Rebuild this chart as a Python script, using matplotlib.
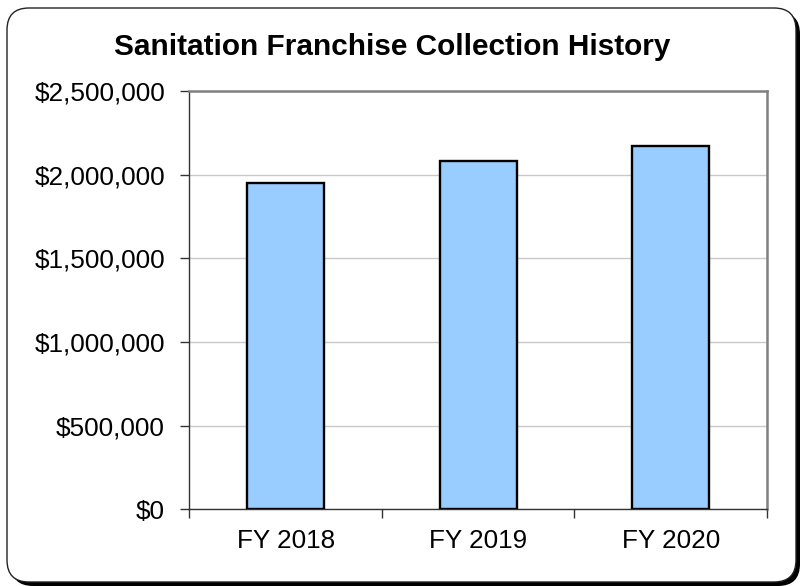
import matplotlib.pyplot as plt
import matplotlib.ticker as mt
from matplotlib.patches import FancyBboxPatch
import numpy as np

plt.rcParams['font.family'] = ['Liberation Sans', 'DejaVu Sans']

# data
years = ['FY 2018', 'FY 2019', 'FY 2020']
collections = [1950000, 2081000, 2169000]
y_ticks = [0, 500000, 1000000, 1500000, 2000000, 2500000]

fig = plt.figure(figsize=(8.01, 5.86), dpi=100)

# rounded outer frame with a drop shadow
shadow = FancyBboxPatch((0.11, 0.0), 7.89, 5.74, boxstyle="round,pad=0,rounding_size=0.22",
                        transform=fig.dpi_scale_trans, fc='black', ec='black', lw=0, zorder=0)
frame = FancyBboxPatch((0.07, 0.04), 7.89, 5.74, boxstyle="round,pad=0,rounding_size=0.22",
                       transform=fig.dpi_scale_trans, fc='white', ec='#222222', lw=1.0, zorder=1)
fig.patches.extend([shadow, frame])

ax = fig.add_axes([0.2363, 0.1309, 0.7213, 0.7138])
ax.set_zorder(2)
ax.patch.set_alpha(0)

x = np.arange(len(years))
ax.bar(x, collections, width=0.40, color='#99CCFF', edgecolor='black', linewidth=1.7, zorder=3)

ax.set_xlim(-0.5, len(years) - 0.5)
ax.set_ylim(0, 2500000)
ax.set_yticks(y_ticks)
ax.yaxis.set_major_formatter(mt.FuncFormatter(lambda v, p: '${:,.0f}'.format(v)))
ax.grid(axis='y', color='#C8C8C8', linewidth=1.0, zorder=0)
ax.set_axisbelow(True)

# categories labelled in the middle, ticks on the boundaries
ax.set_xticks(np.arange(len(years) + 1) - 0.5)
ax.set_xticklabels([])
ax.set_xticks(x, minor=True)
ax.set_xticklabels(years, minor=True)
ax.tick_params(axis='x', which='minor', length=0, labelsize=18.8, pad=14)
ax.tick_params(axis='x', which='major', length=6.5, width=1, color='#333333', direction='out')
ax.tick_params(axis='y', length=6.5, width=1, color='#333333', labelsize=18.8, pad=11)

for side in ['left', 'bottom']:
    ax.spines[side].set_color('#333333')
    ax.spines[side].set_linewidth(1.0)
for side in ['top', 'right']:
    ax.spines[side].set_color('#808080')
    ax.spines[side].set_linewidth(1.8)

fig.text(0.49, 0.919, 'Sanitation Franchise Collection History', ha='center', va='center',
         fontsize=21.4, fontweight='bold', zorder=3)

fig.savefig('out.png', dpi=100)
